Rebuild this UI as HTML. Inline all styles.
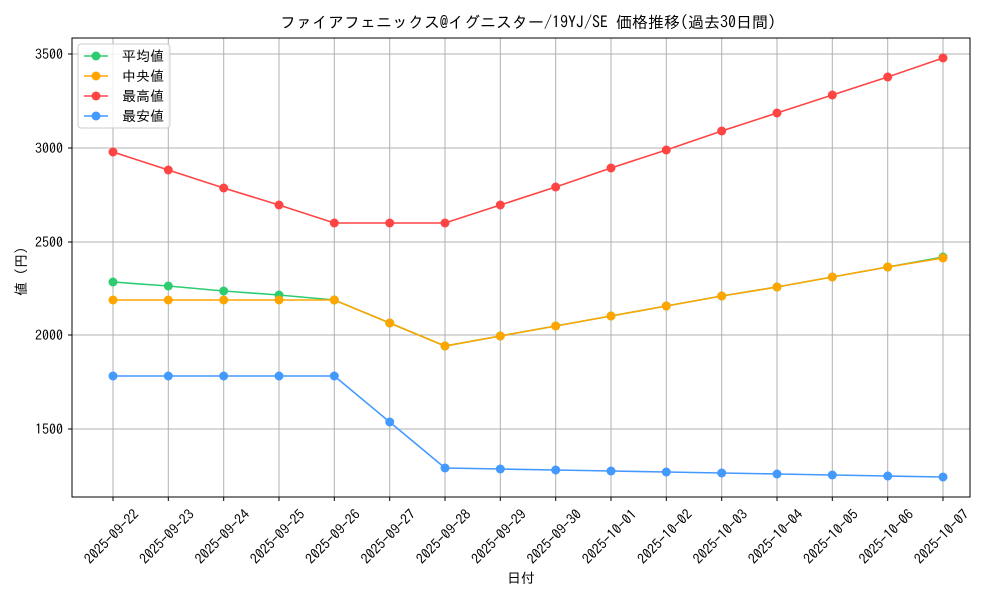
<!DOCTYPE html>
<html><head><meta charset="utf-8"><style>
html,body{margin:0;padding:0;background:#fff}
text{font-family:"IPAGothic","Noto Sans CJK JP",monospace;fill:#000}
</style></head><body>
<svg width="1000" height="600" viewBox="0 0 1000 600" xmlns="http://www.w3.org/2000/svg">
<defs>
<marker id="mg" viewBox="0 0 10 10" refX="5" refY="5" markerWidth="10" markerHeight="10" markerUnits="userSpaceOnUse"><circle cx="5" cy="5" r="4.5" fill="#2ecc71"/></marker>
<marker id="mo" viewBox="0 0 10 10" refX="5" refY="5" markerWidth="10" markerHeight="10" markerUnits="userSpaceOnUse"><circle cx="5" cy="5" r="4.5" fill="#ffa500"/></marker>
<marker id="mr" viewBox="0 0 10 10" refX="5" refY="5" markerWidth="10" markerHeight="10" markerUnits="userSpaceOnUse"><circle cx="5" cy="5" r="4.5" fill="#ff4444"/></marker>
<marker id="mb" viewBox="0 0 10 10" refX="5" refY="5" markerWidth="10" markerHeight="10" markerUnits="userSpaceOnUse"><circle cx="5" cy="5" r="4.5" fill="#4499ff"/></marker>
</defs>
<text x="528" y="28" font-size="16" text-anchor="middle">ファイアフェニックス@イグニスター/19YJ/SE 価格推移(過去30日間)</text>
<g stroke="#b0b0b0" stroke-width="1">
<line x1="72" x2="970" y1="54" y2="54"/><line x1="72" x2="970" y1="148" y2="148"/><line x1="72" x2="970" y1="242" y2="242"/><line x1="72" x2="970" y1="335" y2="335"/><line x1="72" x2="970" y1="429" y2="429"/>
<line x1="113" x2="113" y1="38" y2="497"/><line x1="168.3" x2="168.3" y1="38" y2="497"/><line x1="223.7" x2="223.7" y1="38" y2="497"/><line x1="279" x2="279" y1="38" y2="497"/><line x1="334.3" x2="334.3" y1="38" y2="497"/><line x1="389.7" x2="389.7" y1="38" y2="497"/><line x1="445" x2="445" y1="38" y2="497"/><line x1="500.3" x2="500.3" y1="38" y2="497"/><line x1="555.7" x2="555.7" y1="38" y2="497"/><line x1="611" x2="611" y1="38" y2="497"/><line x1="666.3" x2="666.3" y1="38" y2="497"/><line x1="721.7" x2="721.7" y1="38" y2="497"/><line x1="777" x2="777" y1="38" y2="497"/><line x1="832.3" x2="832.3" y1="38" y2="497"/><line x1="887.7" x2="887.7" y1="38" y2="497"/><line x1="943" x2="943" y1="38" y2="497"/>
</g>
<rect x="72" y="38" width="898" height="459" fill="none" stroke="#000" stroke-width="1"/>
<g stroke="#000"><line x1="68" x2="72" y1="54" y2="54"/><line x1="68" x2="72" y1="148" y2="148"/><line x1="68" x2="72" y1="242" y2="242"/><line x1="68" x2="72" y1="335" y2="335"/><line x1="68" x2="72" y1="429" y2="429"/>
<line x1="113" x2="113" y1="497" y2="501"/><line x1="168.3" x2="168.3" y1="497" y2="501"/><line x1="223.7" x2="223.7" y1="497" y2="501"/><line x1="279" x2="279" y1="497" y2="501"/><line x1="334.3" x2="334.3" y1="497" y2="501"/><line x1="389.7" x2="389.7" y1="497" y2="501"/><line x1="445" x2="445" y1="497" y2="501"/><line x1="500.3" x2="500.3" y1="497" y2="501"/><line x1="555.7" x2="555.7" y1="497" y2="501"/><line x1="611" x2="611" y1="497" y2="501"/><line x1="666.3" x2="666.3" y1="497" y2="501"/><line x1="721.7" x2="721.7" y1="497" y2="501"/><line x1="777" x2="777" y1="497" y2="501"/><line x1="832.3" x2="832.3" y1="497" y2="501"/><line x1="887.7" x2="887.7" y1="497" y2="501"/><line x1="943" x2="943" y1="497" y2="501"/></g>
<g font-size="14" text-anchor="end">
<text x="63" y="59">3500</text><text x="63" y="153">3000</text><text x="63" y="247">2500</text><text x="63" y="340">2000</text><text x="63" y="434">1500</text>
</g>
<g font-size="14" text-anchor="middle">
<text transform="translate(115,540) rotate(-45)">2025-09-22</text>
<text transform="translate(170.3,540) rotate(-45)">2025-09-23</text>
<text transform="translate(225.7,540) rotate(-45)">2025-09-24</text>
<text transform="translate(281,540) rotate(-45)">2025-09-25</text>
<text transform="translate(336.3,540) rotate(-45)">2025-09-26</text>
<text transform="translate(391.7,540) rotate(-45)">2025-09-27</text>
<text transform="translate(447,540) rotate(-45)">2025-09-28</text>
<text transform="translate(502.3,540) rotate(-45)">2025-09-29</text>
<text transform="translate(557.7,540) rotate(-45)">2025-09-30</text>
<text transform="translate(613,540) rotate(-45)">2025-10-01</text>
<text transform="translate(668.3,540) rotate(-45)">2025-10-02</text>
<text transform="translate(723.7,540) rotate(-45)">2025-10-03</text>
<text transform="translate(779,540) rotate(-45)">2025-10-04</text>
<text transform="translate(834.3,540) rotate(-45)">2025-10-05</text>
<text transform="translate(889.7,540) rotate(-45)">2025-10-06</text>
<text transform="translate(945,540) rotate(-45)">2025-10-07</text>
</g>
<text x="521" y="583" font-size="14" text-anchor="middle">日付</text>
<text transform="translate(26,268) rotate(-90)" font-size="14" text-anchor="middle">値（円）</text>
<g fill="none" stroke-width="1.6">
<polyline stroke="#2ecc71" marker-start="url(#mg)" marker-mid="url(#mg)" marker-end="url(#mg)" points="113,282 168.3,286 223.7,291 279,295 334.3,300 389.7,323 445,346 500.3,336 555.7,326 611,316 666.3,306 721.7,296 777,287 832.3,277 887.7,267 943,257"/>
<polyline stroke="#ffa500" marker-start="url(#mo)" marker-mid="url(#mo)" marker-end="url(#mo)" points="113,300 168.3,300 223.7,300 279,300 334.3,300 389.7,323 445,346 500.3,336 555.7,326 611,316 666.3,306 721.7,296 777,287 832.3,277 887.7,267 943,258"/>
<polyline stroke="#ff4444" marker-start="url(#mr)" marker-mid="url(#mr)" marker-end="url(#mr)" points="113,152 168.3,170 223.7,188 279,205 334.3,223 389.7,223 445,223 500.3,205 555.7,187 611,168 666.3,150 721.7,131 777,113 832.3,95 887.7,77 943,58"/>
<polyline stroke="#4499ff" marker-start="url(#mb)" marker-mid="url(#mb)" marker-end="url(#mb)" points="113,376 168.3,376 223.7,376 279,376 334.3,376 389.7,422 445,468 500.3,469 555.7,470 611,471 666.3,472 721.7,473 777,474 832.3,475 887.7,476 943,477"/>
</g>
<rect x="78" y="44" width="92" height="84" rx="3" fill="#fff" fill-opacity="0.8" stroke="#ccc"/>
<g stroke-width="1.6">
<line x1="84" x2="108" y1="56" y2="56" stroke="#2ecc71"/><circle cx="96" cy="56" r="4.5" fill="#2ecc71"/>
<line x1="84" x2="108" y1="76" y2="76" stroke="#ffa500"/><circle cx="96" cy="76" r="4.5" fill="#ffa500"/>
<line x1="84" x2="108" y1="96" y2="96" stroke="#ff4444"/><circle cx="96" cy="96" r="4.5" fill="#ff4444"/>
<line x1="84" x2="108" y1="116" y2="116" stroke="#4499ff"/><circle cx="96" cy="116" r="4.5" fill="#4499ff"/>
</g>
<g font-size="14"><text x="122" y="61">平均値</text><text x="122" y="81">中央値</text><text x="122" y="101">最高値</text><text x="122" y="121">最安値</text></g>
</svg>
</body></html>
